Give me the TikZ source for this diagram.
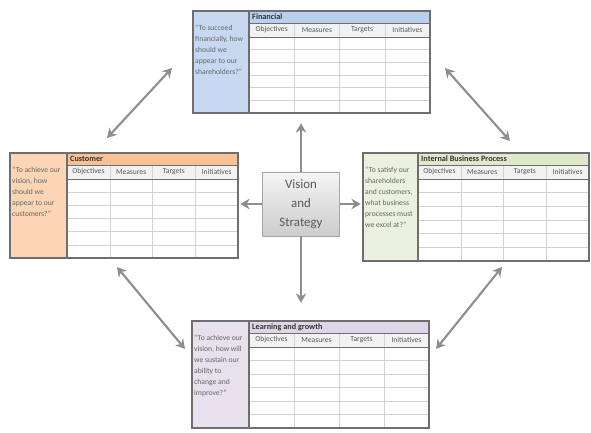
\documentclass[tikz,border=0pt]{standalone}
\usepackage{fontspec}
\setmainfont{Carlito}
\usetikzlibrary{arrows.meta, positioning, calc, fit}

\definecolor{finfill}{HTML}{C6D9F1}
\definecolor{finhead}{HTML}{B9D0EC}
\definecolor{cusfill}{HTML}{FCD5B5}
\definecolor{cushead}{HTML}{F9C193}
\definecolor{ibpfill}{HTML}{EBF1DE}
\definecolor{ibphead}{HTML}{DEE8CA}
\definecolor{lrnfill}{HTML}{E6E1EC}
\definecolor{lrnhead}{HTML}{DCD6E5}
\definecolor{colhead}{HTML}{F2F2F2}
\definecolor{frame}{HTML}{6E6E6E}
\definecolor{gridgray}{HTML}{D2D2D2}
\definecolor{arrowgray}{HTML}{8E8E8E}

% one perspective sheet: name, x0, y0, x1, y1, split, colour, title, question
\newcommand{\perspective}[9]{%
  \node[sheet, fit={(#2,#3) (#4,#5)}] (#1) {};
  \fill[#7fill] (#2,#3) rectangle (#6,#5);
  \fill[#7head] (#6,#3) rectangle (#4,#3+12);
  \fill[colhead] (#6,#3+12) rectangle (#4,#3+26);
  \foreach \r in {1,...,5}
    \draw[grid] ($(#6,#3+26)!\r/6!(#6,#5)$) -- ($(#4,#3+26)!\r/6!(#4,#5)$);
  \foreach \c in {1,2,3}
    \draw[grid] ($(#6,#3+12)!\c/4!(#4,#3+12)$) -- ($(#6,#5)!\c/4!(#4,#5)$);
  \foreach \c/\h in {0/Objectives,1/Measures,2/Targets,3/Initiatives}
    \node[colname] at ($(#6,#3+19)!{(\c+0.5)/4}!(#4,#3+19)$) {\h};
  \draw[headline] (#6,#3+12) -- (#4,#3+12);
  \draw[headline] (#6,#3+26) -- (#4,#3+26);
  \draw[sheetedge] (#6,#3) -- (#6,#5);
  \draw[sheetedge] (#2,#3) rectangle (#4,#5);
  \node[sheettitle, anchor=west] at (#6+3,#3+6) {#8};
  \node[question, anchor=north west] at (#2+2,#3+14) {#9};
}

\begin{document}
\begin{tikzpicture}[
    x=0.03cm, y=-0.03cm,
    sheet/.style={inner sep=0pt},
    sheetedge/.style={draw=frame, line width=1.2pt},
    headline/.style={draw=frame, line width=0.6pt},
    grid/.style={draw=gridgray, line width=0.4pt},
    colname/.style={font=\fontsize{6.5}{7}\selectfont, text=black!65, inner sep=0pt},
    sheettitle/.style={font=\fontsize{7}{8}\selectfont\bfseries, text=black!80, inner sep=0pt},
    question/.style={font=\fontsize{6.5}{9.4}\selectfont, text=black!60, align=left, inner sep=0pt},
    vision/.style={draw=gray!70, top color=gray!8, bottom color=gray!40, minimum width=2.31cm, minimum height=1.92cm, align=center, font=\fontsize{11}{16}\selectfont, text=black!65},
    arrow/.style={-{Stealth[length=8pt,width=9pt]}, line width=1.8pt, draw=arrowgray},
    twoway/.style={arrow, {Stealth[length=8pt,width=9pt]}-{Stealth[length=8pt,width=9pt]}}
]
\useasboundingbox (0,0) rectangle (591,433);

% Sheets
\perspective{fin}{193}{11}{430}{113}{249}{fin}{Financial}{``To succeed\\financially, how\\should we\\appear to our\\shareholders?''}
\perspective{cus}{10}{153}{238}{258}{67}{cus}{Customer}{``To achieve our\\vision, how\\should we\\appear to our\\customers?''}
\perspective{ibp}{363}{153}{589}{261}{418}{ibp}{Internal Business Process}{``To satisfy our\\shareholders\\and customers,\\what business\\processes must\\we excel at?''}
\perspective{lrn}{192}{321}{429}{428}{249}{lrn}{Learning and growth}{``To achieve our\\vision, how will\\we sustain our\\ability to\\change and\\improve?''}

% Centre
\node (vision) [vision] at (301,204) {Vision\\and\\Strategy};

% Free ends of the links between sheets
\coordinate (cf1) at (107,138); \coordinate (cf2) at (172,68);
\coordinate (fi1) at (445,68);  \coordinate (fi2) at (510,141);
\coordinate (cl1) at (117,267); \coordinate (cl2) at (185,349);
\coordinate (il1) at (502,267); \coordinate (il2) at (436,349);

% Paths
\draw [arrow, shorten >=0.3cm] (vision.north) -- (vision.north |- fin.south);
\draw [arrow, shorten >=0.54cm] (vision.south) -- (vision.south |- lrn.north);
\draw [arrow, shorten >=0.06cm] (vision.west) -- (vision.west -| cus.east);
\draw [arrow, shorten >=0.06cm] (vision.east) -- (vision.east -| ibp.west);
\draw [twoway] (cf1) -- (cf2);
\draw [twoway] (fi1) -- (fi2);
\draw [twoway] (cl1) -- (cl2);
\draw [twoway] (il1) -- (il2);

\end{tikzpicture}
\end{document}
